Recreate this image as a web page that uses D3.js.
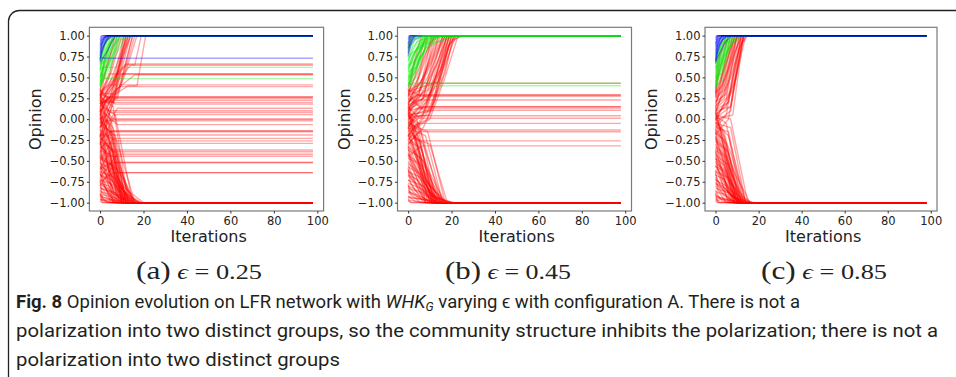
<!DOCTYPE html>
<html>
<head>
<meta charset="utf-8">
<script src="https://cdn.jsdelivr.net/npm/d3@7"></script>
<style>
  html, body { margin: 0; padding: 0; background: #fff; }
  svg { display: block; }
</style>
</head>
<body>
<svg id="fig" width="956" height="377"></svg>
<script>
// axis ticks
const iterTicks = [0, 20, 40, 60, 80, 100];
const opinionTicks = [1, 0.75, 0.5, 0.25, 0, -0.25, -0.5, -0.75, -1];
const lastIteration = 98;
const subLabels = ['(a)', '(b)', '(c)'];
const epsilons = ['0.25', '0.45', '0.85'];

// trajectories: [opinion at 0, iter, opinion, iter, opinion, ...], last opinion held to the end
const redA = [
  [-0.95, 3, -1], [-0.9, 2, -0.97, 5, -1], [-0.85, 4, -0.95, 8, -1], [-0.8, 3, -0.9, 9, -1],
  [-0.75, 5, -0.92, 11, -1], [-0.7, 2, -0.8, 7, -1], [-0.65, 4, -0.85, 12, -1], [-0.6, 6, -0.9, 14, -1],
  [-0.55, 3, -0.7, 10, -1], [-0.5, 5, -0.8, 13, -1], [-0.45, 7, -0.75, 16, -1], [-0.4, 4, -0.6, 11, -1],
  [-0.35, 6, -0.7, 15, -1], [-0.3, 8, -0.8, 18, -1], [-0.25, 3, -0.5, 9, -1], [-0.2, 5, -0.6, 12, -1],
  [-0.15, 7, -0.7, 14, -1], [-0.1, 4, -0.4, 10, -1], [-0.05, 6, -0.55, 13, -1], [0.0, 8, -0.7, 17, -1],
  [0.05, 3, -0.2, 9, -1], [0.1, 5, -0.3, 11, -1], [0.15, 7, -0.5, 15, -1], [0.2, 4, -0.1, 10, -1],
  [0.25, 6, -0.2, 12, -1], [0.3, 2, 0.1, 8, -1], [-0.92, 6, -0.98, 10, -1], [-0.62, 1, -0.75, 6, -1],
  [-0.38, 2, -0.55, 8, -1], [-0.12, 2, -0.35, 7, -1], [0.12, 1, -0.1, 6, -1], [-0.78, 8, -0.9, 16, -1],
  [-0.52, 9, -0.85, 19, -1], [-0.28, 10, -0.8, 20, -1], [0.02, 9, -0.6, 16, -1], [-0.98, 1, -1],
  [-0.88, 1, -1], [-0.72, 1, -0.95, 4, -1], [-0.42, 1, -0.7, 5, -1], [-0.18, 1, -0.5, 6, -1],
  [-0.97, 5, -0.99, 9, -1], [-0.93, 6, -0.96, 12, -1], [-0.87, 5, -0.9, 10, -1], [-0.83, 7, -0.88, 13, -1],
  [-0.77, 4, -0.8, 11, -1], [-0.73, 6, -0.78, 14, -1], [-0.67, 5, -0.72, 12, -1], [-0.63, 7, -0.7, 15, -1],
  [-0.57, 4, -0.62, 10, -1], [-0.53, 6, -0.6, 14, -1], [-0.47, 5, -0.55, 12, -1], [-0.43, 8, -0.6, 16, -1],
  [-0.37, 4, -0.42, 11, -1], [-0.33, 6, -0.45, 13, -1], [-0.27, 5, -0.35, 12, -1], [-0.23, 7, -0.4, 15, -1],
  [-0.17, 4, -0.22, 10, -1], [-0.13, 6, -0.25, 14, -1], [-0.07, 5, -0.15, 12, -1], [-0.03, 7, -0.2, 16, -1],
  [0.03, 4, -0.05, 11, -1], [0.07, 6, -0.1, 13, -1], [0.13, 5, 0.0, 12, -1], [0.17, 7, 0.05, 15, -1],
  [0.23, 4, 0.1, 10, -1], [0.27, 6, 0.15, 13, -1], [-0.96, 10, -0.98, 15, -1], [-0.82, 11, -0.95, 17, -1],
  [-0.66, 10, -0.9, 18, -1], [-0.58, 12, -0.93, 19, -1], [-0.9, 12, -0.97, 19, -1],
  [0.35, 3, 0.6, 7, 1], [0.3, 4, 0.5, 9, 1], [0.25, 5, 0.55, 10, 1], [0.2, 6, 0.45, 11, 1],
  [0.15, 7, 0.5, 12, 1], [0.1, 5, 0.3, 13, 1], [0.05, 8, 0.55, 14, 1], [0.0, 9, 0.4, 15, 1],
  [-0.1, 10, 0.45, 16, 1], [-0.2, 11, 0.5, 17, 1], [0.28, 12, 0.65, 16, 0.65, 19, 1],
  [0.18, 13, 0.4, 17, 0.4, 21, 1], [0.32, 2, 0.7, 6, 1], [0.22, 3, 0.65, 8, 1], [-0.3, 6, 0.2, 12, 1],
  [-0.05, 7, 0.35, 11, 1], [0.12, 9, 0.75, 13, 1], [0.08, 4, 0.2, 10, 0.75, 14, 1],
  [0.33, 5, 0.2, 12, 1], [0.31, 7, 0.3, 14, 1], [0.24, 6, 0.2, 13, 1], [0.19, 8, 0.25, 15, 1],
  [0.3, 6, 0.5, 12, 0.66], [0.2, 8, 0.45, 14, 0.645], [0.25, 5, 0.4, 10, 0.54], [0.27, 4, 0.54],
  [0.1, 7, 0.35, 16, 0.53], [0.33, 4, 0.41], [0.15, 9, 0.39], [0.05, 3, 0.266], [0.18, 5, 0.266],
  [0.3, 5, 0.25], [-0.1, 6, 0.226], [0.22, 2, 0.2], [0.35, 7, 0.18], [-0.2, 8, 0.13], [0.3, 4, 0.1],
  [0.0, 5, 0.08], [-0.3, 7, 0.054], [0.2, 6, 0.0], [-0.05, 4, 0.0], [-0.1, 3, -0.02], [0.1, 8, -0.066],
  [-0.4, 5, -0.14], [-0.2, 6, -0.14], [0.05, 4, -0.15], [-0.25, 3, -0.19], [-0.5, 6, -0.23],
  [0.0, 7, -0.26], [-0.35, 2, -0.29], [-0.6, 5, -0.37], [-0.2, 6, -0.39], [-0.7, 8, -0.42],
  [-0.3, 4, -0.445], [-0.8, 7, -0.52], [-0.6, 5, -0.52], [-0.45, 9, -0.64], [-0.75, 6, -0.64]
];
const greenA = [
  [0.38, 3, 0.6, 8, 1], [0.4, 2, 0.7, 6, 1], [0.42, 4, 0.75, 9, 1], [0.45, 1, 0.6, 5, 1],
  [0.48, 3, 0.8, 7, 1], [0.5, 5, 0.85, 10, 1], [0.52, 2, 0.65, 6, 1], [0.55, 1, 0.75, 4, 1],
  [0.58, 4, 0.9, 8, 1], [0.6, 2, 0.8, 5, 1], [0.62, 3, 0.85, 7, 1], [0.65, 1, 0.8, 4, 1],
  [0.68, 2, 0.9, 5, 1], [0.7, 1, 0.85, 3, 1], [0.72, 3, 0.95, 6, 1], [0.39, 6, 0.7, 12, 1],
  [0.44, 7, 0.8, 11, 1], [0.5, 2, 0.62], [0.55, 3, 0.485], [0.41, 1, 0.5, 9, 0.95, 13, 1],
  [0.46, 4, 0.5, 8, 1], [0.6, 4, 0.65, 9, 1], [0.66, 3, 0.7, 7, 1]
];
const blueA = [
  [0.7, 1, 0.85, 4, 1], [0.72, 2, 0.9, 5, 1], [0.75, 1, 0.92, 3, 1], [0.78, 3, 0.95, 6, 1],
  [0.8, 1, 0.9, 4, 1], [0.83, 2, 0.97, 4, 1], [0.86, 1, 0.95, 3, 1], [0.88, 2, 0.98, 5, 1],
  [0.9, 1, 0.97, 3, 1], [0.93, 2, 1], [0.95, 1, 1], [0.98, 1, 1], [0.68, 3, 0.8, 7, 1],
  [0.74, 2, 0.73]
];

const redB = [
  [-0.98, 2, -1], [-0.92, 3, -0.98, 7, -1], [-0.85, 2, -0.9, 9, -1], [-0.8, 5, -0.95, 12, -1],
  [-0.72, 3, -0.85, 10, -1], [-0.65, 6, -0.9, 14, -1], [-0.6, 2, -0.7, 8, -1], [-0.55, 4, -0.8, 13, -1],
  [-0.5, 7, -0.85, 16, -1], [-0.45, 3, -0.6, 11, -1], [-0.4, 5, -0.7, 15, -1], [-0.35, 8, -0.85, 18, -1],
  [-0.3, 4, -0.55, 12, -1], [-0.25, 6, -0.6, 14, -1], [-0.2, 3, -0.4, 10, -1], [-0.15, 5, -0.5, 13, -1],
  [-0.1, 7, -0.7, 17, -1], [-0.05, 4, -0.3, 11, -1], [0.0, 6, -0.45, 15, -1], [0.05, 3, -0.15, 9, -1],
  [0.1, 5, -0.25, 12, -1], [0.15, 2, -0.1, 8, -1], [0.2, 4, -0.2, 10, -1], [-0.88, 10, -0.97, 20, -1],
  [-0.68, 9, -0.9, 19, -1], [-0.42, 11, -0.92, 21, -1], [-0.18, 8, -0.75, 18, -1], [0.08, 7, -0.55, 16, -1],
  [-0.95, 1, -1], [-0.78, 1, -0.9, 6, -1], [-0.58, 1, -0.75, 7, -1], [-0.32, 1, -0.5, 8, -1],
  [-0.97, 5, -0.99, 10, -1], [-0.93, 7, -0.96, 13, -1], [-0.87, 4, -0.9, 11, -1], [-0.83, 6, -0.88, 14, -1],
  [-0.77, 5, -0.82, 12, -1], [-0.73, 7, -0.8, 15, -1], [-0.67, 4, -0.72, 11, -1], [-0.63, 6, -0.7, 14, -1],
  [-0.57, 5, -0.65, 13, -1], [-0.53, 7, -0.68, 16, -1], [-0.47, 4, -0.52, 12, -1], [-0.43, 6, -0.55, 15, -1],
  [-0.37, 5, -0.45, 13, -1], [-0.33, 7, -0.5, 17, -1], [-0.27, 4, -0.32, 11, -1], [-0.23, 6, -0.35, 14, -1],
  [-0.17, 5, -0.25, 13, -1], [-0.13, 7, -0.3, 16, -1], [-0.07, 4, -0.12, 12, -1], [-0.03, 6, -0.15, 15, -1],
  [0.03, 5, -0.05, 13, -1], [0.09, 4, 0.0, 11, -1], [-0.94, 12, -0.98, 20, -1], [-0.8, 13, -0.96, 21, -1],
  [-0.62, 11, -0.92, 20, -1], [-0.05, 9, -0.15, 17, -1], [-0.1, 8, -0.2, 16, -1], [-0.2, 10, -0.3, 18, -1],
  [0.35, 2, 0.6, 6, 1], [0.32, 3, 0.5, 8, 1], [0.3, 4, 0.55, 10, 0.9, 13, 1], [0.28, 5, 0.5, 12, 1],
  [0.25, 6, 0.45, 14, 1], [0.22, 7, 0.5, 15, 1], [0.2, 5, 0.35, 13, 0.8, 17, 1], [0.18, 8, 0.55, 16, 1],
  [0.15, 6, 0.3, 14, 0.7, 18, 1], [0.12, 9, 0.5, 17, 1], [0.1, 7, 0.25, 15, 0.6, 19, 1],
  [0.05, 10, 0.45, 18, 1], [0.0, 8, 0.2, 16, 0.65, 20, 1], [-0.05, 9, 0.1, 17, 0.55, 21, 1],
  [-0.1, 11, 0.3, 18, 0.85, 22, 1], [-0.15, 10, 0.0, 17, 0.5, 23, 1], [-0.2, 6, 0.0, 14, 0.6, 19, 1],
  [-0.25, 12, 0.2, 19, 0.9, 24, 1], [-0.3, 7, -0.1, 15, 0.4, 21, 1], [0.26, 3, 0.7, 9, 1],
  [0.16, 4, 0.45, 11, 1], [0.06, 5, 0.3, 13, 1], [-0.02, 13, 0.4, 20, 0.95, 26, 1], [0.33, 14, 0.45, 22, 1],
  [0.34, 4, 0.4, 9, 1], [0.29, 6, 0.35, 12, 1], [0.23, 5, 0.3, 11, 1], [0.17, 7, 0.25, 14, 1],
  [0.11, 6, 0.2, 16, 1], [0.04, 8, 0.1, 18, 1], [-0.08, 7, 0.05, 17, 1], [-0.12, 9, 0.0, 20, 1],
  [0.21, 9, 0.35, 16, 1], [0.14, 10, 0.3, 19, 1], [0.02, 10, 0.05, 19, 1], [0.1, 9, 0.15, 18, 1],
  [0.05, 11, 0.1, 20, 1],
  [0.3, 5, 0.43], [0.2, 4, 0.29], [0.12, 6, 0.29], [0.35, 6, 0.275], [0.1, 3, 0.23], [0.25, 5, 0.15],
  [-0.05, 7, 0.15], [0.0, 4, 0.134], [0.3, 7, 0.107], [-0.1, 3, 0.04], [0.15, 5, 0.01], [-0.2, 4, -0.05],
  [0.05, 6, -0.13], [-0.3, 5, -0.15], [-0.1, 4, -0.26], [-0.45, 6, -0.32]
];
const greenB = [
  [0.38, 4, 0.6, 10, 1], [0.4, 3, 0.65, 12, 1], [0.42, 6, 0.75, 14, 1], [0.45, 2, 0.6, 8, 1],
  [0.48, 5, 0.8, 11, 1], [0.5, 7, 0.9, 16, 1], [0.52, 3, 0.7, 9, 1], [0.55, 4, 0.85, 13, 1],
  [0.58, 2, 0.75, 7, 1], [0.6, 6, 0.95, 18, 1], [0.62, 3, 0.8, 10, 1], [0.65, 5, 0.9, 12, 1],
  [0.68, 2, 0.85, 6, 1], [0.7, 4, 0.92, 9, 1], [0.75, 3, 0.95, 8, 1], [0.8, 2, 0.95, 5, 1],
  [0.85, 1, 0.97, 4, 1], [0.9, 2, 1], [0.39, 8, 0.85, 20, 1], [0.46, 9, 0.9, 24, 1],
  [0.41, 2, 0.43], [0.44, 3, 0.4], [0.72, 1, 0.78, 15, 1], [0.43, 4, 0.5, 9, 1],
  [0.5, 3, 0.55, 7, 1], [0.57, 4, 0.62, 8, 1], [0.64, 3, 0.7, 7, 1]
];
const blueB = [
  [0.75, 1, 0.9, 3, 1], [0.78, 2, 0.95, 4, 1], [0.8, 1, 0.92, 3, 1], [0.83, 1, 0.96, 2, 1],
  [0.86, 2, 0.98, 4, 1], [0.88, 1, 0.97, 3, 1], [0.9, 1, 1], [0.92, 2, 1], [0.95, 1, 1],
  [0.97, 1, 1], [0.99, 1, 1], [0.85, 3, 0.95, 6, 1]
];

const redC = [
  [-0.98, 1, -1], [-0.95, 2, -1], [-0.9, 3, -0.97, 6, -1], [-0.85, 2, -0.95, 8, -1],
  [-0.8, 4, -0.92, 10, -1], [-0.75, 3, -0.88, 9, -1], [-0.7, 5, -0.9, 12, -1], [-0.65, 2, -0.8, 7, -1],
  [-0.6, 4, -0.82, 11, -1], [-0.55, 6, -0.88, 13, -1], [-0.5, 3, -0.7, 9, -1], [-0.45, 5, -0.78, 12, -1],
  [-0.4, 7, -0.85, 15, -1], [-0.35, 2, -0.55, 8, -1], [-0.3, 4, -0.6, 10, -1], [-0.25, 6, -0.7, 13, -1],
  [-0.2, 3, -0.45, 9, -1], [-0.15, 5, -0.55, 11, -1], [-0.1, 7, -0.65, 14, -1], [-0.05, 4, -0.35, 10, -1],
  [0.0, 6, -0.5, 12, -1], [0.05, 8, -0.6, 16, -1], [0.1, 3, -0.2, 9, -1], [0.15, 5, -0.3, 11, -1],
  [-0.92, 8, -0.98, 17, -1], [-0.72, 9, -0.95, 18, -1], [-0.48, 10, -0.9, 17, -1], [-0.22, 8, -0.8, 16, -1],
  [0.02, 7, -0.4, 14, -1], [-0.62, 1, -0.85, 5, -1], [-0.38, 1, -0.6, 6, -1], [-0.12, 1, -0.4, 7, -1],
  [-0.88, 1, -1], [0.08, 2, -0.1, 8, -1],
  [-0.97, 4, -0.99, 8, -1], [-0.93, 5, -0.96, 10, -1], [-0.87, 4, -0.9, 9, -1], [-0.83, 6, -0.88, 12, -1],
  [-0.77, 4, -0.82, 10, -1], [-0.73, 5, -0.8, 11, -1], [-0.67, 4, -0.72, 9, -1], [-0.63, 6, -0.7, 12, -1],
  [-0.57, 4, -0.62, 10, -1], [-0.53, 5, -0.62, 11, -1], [-0.47, 4, -0.55, 10, -1], [-0.43, 6, -0.55, 13, -1],
  [-0.37, 4, -0.45, 10, -1], [-0.33, 5, -0.45, 12, -1], [-0.27, 4, -0.35, 11, -1], [-0.23, 6, -0.4, 13, -1],
  [-0.17, 4, -0.25, 10, -1], [-0.13, 5, -0.3, 12, -1], [-0.07, 4, -0.15, 11, -1], [-0.03, 6, -0.2, 14, -1],
  [0.04, 5, -0.05, 12, -1], [-0.95, 9, -0.98, 16, -1], [-0.78, 10, -0.96, 17, -1], [-0.56, 9, -0.93, 16, -1],
  [-0.05, 7, -0.1, 14, -1], [0.05, 7, 0.0, 15, -1], [-0.1, 6, -0.15, 13, -1],
  [0.33, 2, 0.6, 6, 1], [0.3, 3, 0.55, 8, 1], [0.28, 4, 0.6, 9, 1], [0.25, 2, 0.4, 7, 1],
  [0.22, 5, 0.55, 10, 1], [0.2, 3, 0.35, 8, 0.9, 11, 1], [0.18, 6, 0.6, 12, 1], [0.15, 4, 0.3, 10, 1],
  [0.12, 5, 0.25, 9, 0.8, 12, 1], [0.1, 7, 0.5, 13, 1], [0.05, 6, 0.2, 11, 0.85, 14, 1],
  [0.0, 8, 0.35, 13, 1], [-0.05, 7, 0.1, 12, 0.9, 15, 1], [-0.1, 5, 0.05, 11, 1], [0.32, 1, 0.7, 5, 1],
  [0.27, 2, 0.75, 6, 1], [0.14, 3, 0.5, 9, 1], [0.07, 4, 0.4, 10, 1], [-0.02, 9, 0.45, 14, 1],
  [-0.18, 6, 0.0, 13, 1], [0.31, 3, 0.4, 8, 1], [0.26, 4, 0.35, 9, 1], [0.21, 5, 0.3, 10, 1],
  [0.16, 4, 0.25, 11, 1], [0.11, 6, 0.2, 12, 1], [0.06, 5, 0.15, 12, 1], [0.01, 7, 0.15, 13, 1],
  [0.0, 8, 0.05, 13, 1], [0.1, 7, 0.15, 12, 1]
];
const greenC = [
  [0.36, 2, 0.6, 7, 1], [0.38, 3, 0.7, 9, 1], [0.4, 4, 0.75, 10, 1], [0.42, 1, 0.55, 6, 1],
  [0.45, 2, 0.7, 8, 1], [0.48, 3, 0.8, 7, 1], [0.5, 5, 0.9, 11, 1], [0.52, 1, 0.65, 5, 1],
  [0.55, 2, 0.8, 6, 1], [0.58, 4, 0.92, 9, 1], [0.6, 1, 0.75, 4, 1], [0.63, 2, 0.85, 5, 1],
  [0.66, 3, 0.9, 7, 1], [0.68, 1, 0.8, 4, 1], [0.7, 2, 0.92, 5, 1], [0.37, 6, 0.85, 12, 1],
  [0.44, 7, 0.9, 12, 1], [0.4, 3, 0.45, 8, 1], [0.5, 3, 0.55, 7, 1], [0.62, 3, 0.66, 6, 1]
];
const blueC = [
  [0.67, 1, 0.85, 4, 1], [0.7, 2, 0.9, 5, 1], [0.72, 1, 0.88, 3, 1], [0.75, 3, 0.95, 6, 1],
  [0.78, 1, 0.9, 3, 1], [0.8, 2, 0.96, 4, 1], [0.83, 1, 0.94, 3, 1], [0.86, 2, 0.98, 4, 1],
  [0.88, 1, 0.97, 2, 1], [0.9, 1, 1], [0.92, 2, 1], [0.95, 1, 1], [0.97, 1, 1], [0.99, 1, 1],
  [0.69, 4, 0.9, 7, 1]
];

const captionLines = [
  'Opinion evolution on LFR network with',
  'varying \u03f5 with configuration A. There is not a',
  'polarization into two distinct groups, so the community structure inhibits the polarization; there is not a',
  'polarization into two distinct groups'
];

const svg = d3.select('#fig');

// rounded figure border
svg.append('path')
  .attr('d', 'M8.5,377 V21 A11,11 0 0 1 19.5,10.5 H956')
  .attr('fill', 'none')
  .attr('stroke', '#222')
  .attr('stroke-width', 1.3);

const panels = [
  { left: 89.4, right: 323.6, cx: 199, red: redA, green: greenA, blue: blueA, order: ['red', 'green', 'blue'] },
  { left: 397.5, right: 631.5, cx: 508, red: redB, green: greenB, blue: blueB, order: ['red', 'blue', 'green'] },
  { left: 705, right: 937, cx: 824, red: redC, green: greenC, blue: blueC, order: ['red', 'green', 'blue'] }
];
const plotTop = 27.3, plotBottom = 211;
const colors = { red: '#ff0000', green: '#00ee00', blue: '#0000ff' };
const tickFont = 'DejaVu Sans, sans-serif';

function toPoints(t) {
  const pts = [[0, t[0]]];
  for (let i = 1; i < t.length; i += 2) pts.push([t[i], t[i + 1]]);
  pts.push([lastIteration, pts[pts.length - 1][1]]);
  return pts;
}

panels.forEach((p, i) => {
  const x = d3.scaleLinear().domain([-4.9, 102.9]).range([p.left, p.right]);
  const y = d3.scaleLinear().domain([-1.1, 1.1]).range([plotBottom, plotTop]);
  const g = svg.append('g');

  const line = d3.line().x(d => x(d[0])).y(d => y(d[1]));
  p.order.forEach(key => {
    g.append('g')
      .selectAll('path')
      .data(p[key])
      .join('path')
      .attr('d', d => line(toPoints(d)))
      .attr('fill', 'none')
      .attr('stroke', colors[key])
      .attr('stroke-opacity', 0.35)
      .attr('stroke-width', 1.4);
  });

  // frame
  g.append('rect')
    .attr('x', p.left).attr('y', plotTop)
    .attr('width', p.right - p.left).attr('height', plotBottom - plotTop)
    .attr('fill', 'none').attr('stroke', '#7a7a7a').attr('stroke-width', 1.2);

  const yAxis = g.append('g')
    .attr('transform', `translate(${p.left},0)`)
    .call(d3.axisLeft(y).tickValues(opinionTicks).tickSize(2.5).tickPadding(2).tickFormat(d3.format('.2f')));
  const xAxis = g.append('g')
    .attr('transform', `translate(0,${plotBottom})`)
    .call(d3.axisBottom(x).tickValues(iterTicks).tickSize(2.5).tickPadding(3));
  [xAxis, yAxis].forEach(ax => {
    ax.select('.domain').remove();
    ax.selectAll('line').attr('stroke', '#333');
    ax.selectAll('text').attr('font-family', tickFont).attr('font-size', 11.5).attr('fill', '#222');
  });

  g.append('text')
    .attr('transform', `translate(${p.left - 48},${(plotTop + plotBottom) / 2}) rotate(-90)`)
    .attr('text-anchor', 'middle')
    .attr('font-family', tickFont).attr('font-size', 16).attr('fill', '#222')
    .text('Opinion');
  g.append('text')
    .attr('x', (x(0) + x(100)) / 2).attr('y', 242)
    .attr('text-anchor', 'middle')
    .attr('font-family', tickFont).attr('font-size', 16).attr('fill', '#222')
    .text('Iterations');

  // sub caption
  const sub = svg.append('text')
    .attr('x', p.cx - 63).attr('y', 279)
    .attr('textLength', 126).attr('lengthAdjust', 'spacingAndGlyphs')
    .attr('font-family', 'Liberation Serif, serif').attr('fill', '#222');
  sub.append('tspan').attr('font-size', 25).text(subLabels[i]);
  sub.append('tspan').attr('font-size', 21).attr('font-style', 'italic').text(' \u03f5');
  sub.append('tspan').attr('font-size', 21).text(' = ' + epsilons[i]);
});

// figure caption
const capFont = 'Roboto, sans-serif';
const capColor = '#231f20';
const l1 = svg.append('text').attr('x', 16).attr('y', 308)
  .attr('textLength', 784).attr('lengthAdjust', 'spacingAndGlyphs')
  .attr('font-family', capFont).attr('font-size', 18).attr('fill', capColor);
l1.append('tspan').attr('font-weight', 'bold').text('Fig. 8');
l1.append('tspan').text('  ' + captionLines[0] + ' ');
l1.append('tspan').attr('font-style', 'italic').text('WHK');
l1.append('tspan').attr('font-style', 'italic').attr('font-size', 12).attr('dy', 3).text('G');
l1.append('tspan').attr('dy', -3).text(' ' + captionLines[1]);

svg.append('text').attr('x', 16).attr('y', 337)
  .attr('textLength', 922).attr('lengthAdjust', 'spacingAndGlyphs')
  .attr('font-family', capFont).attr('font-size', 18).attr('fill', capColor)
  .text(captionLines[2]);
svg.append('text').attr('x', 16).attr('y', 366)
  .attr('textLength', 324).attr('lengthAdjust', 'spacingAndGlyphs')
  .attr('font-family', capFont).attr('font-size', 18).attr('fill', capColor)
  .text(captionLines[3]);
</script>
</body>
</html>
